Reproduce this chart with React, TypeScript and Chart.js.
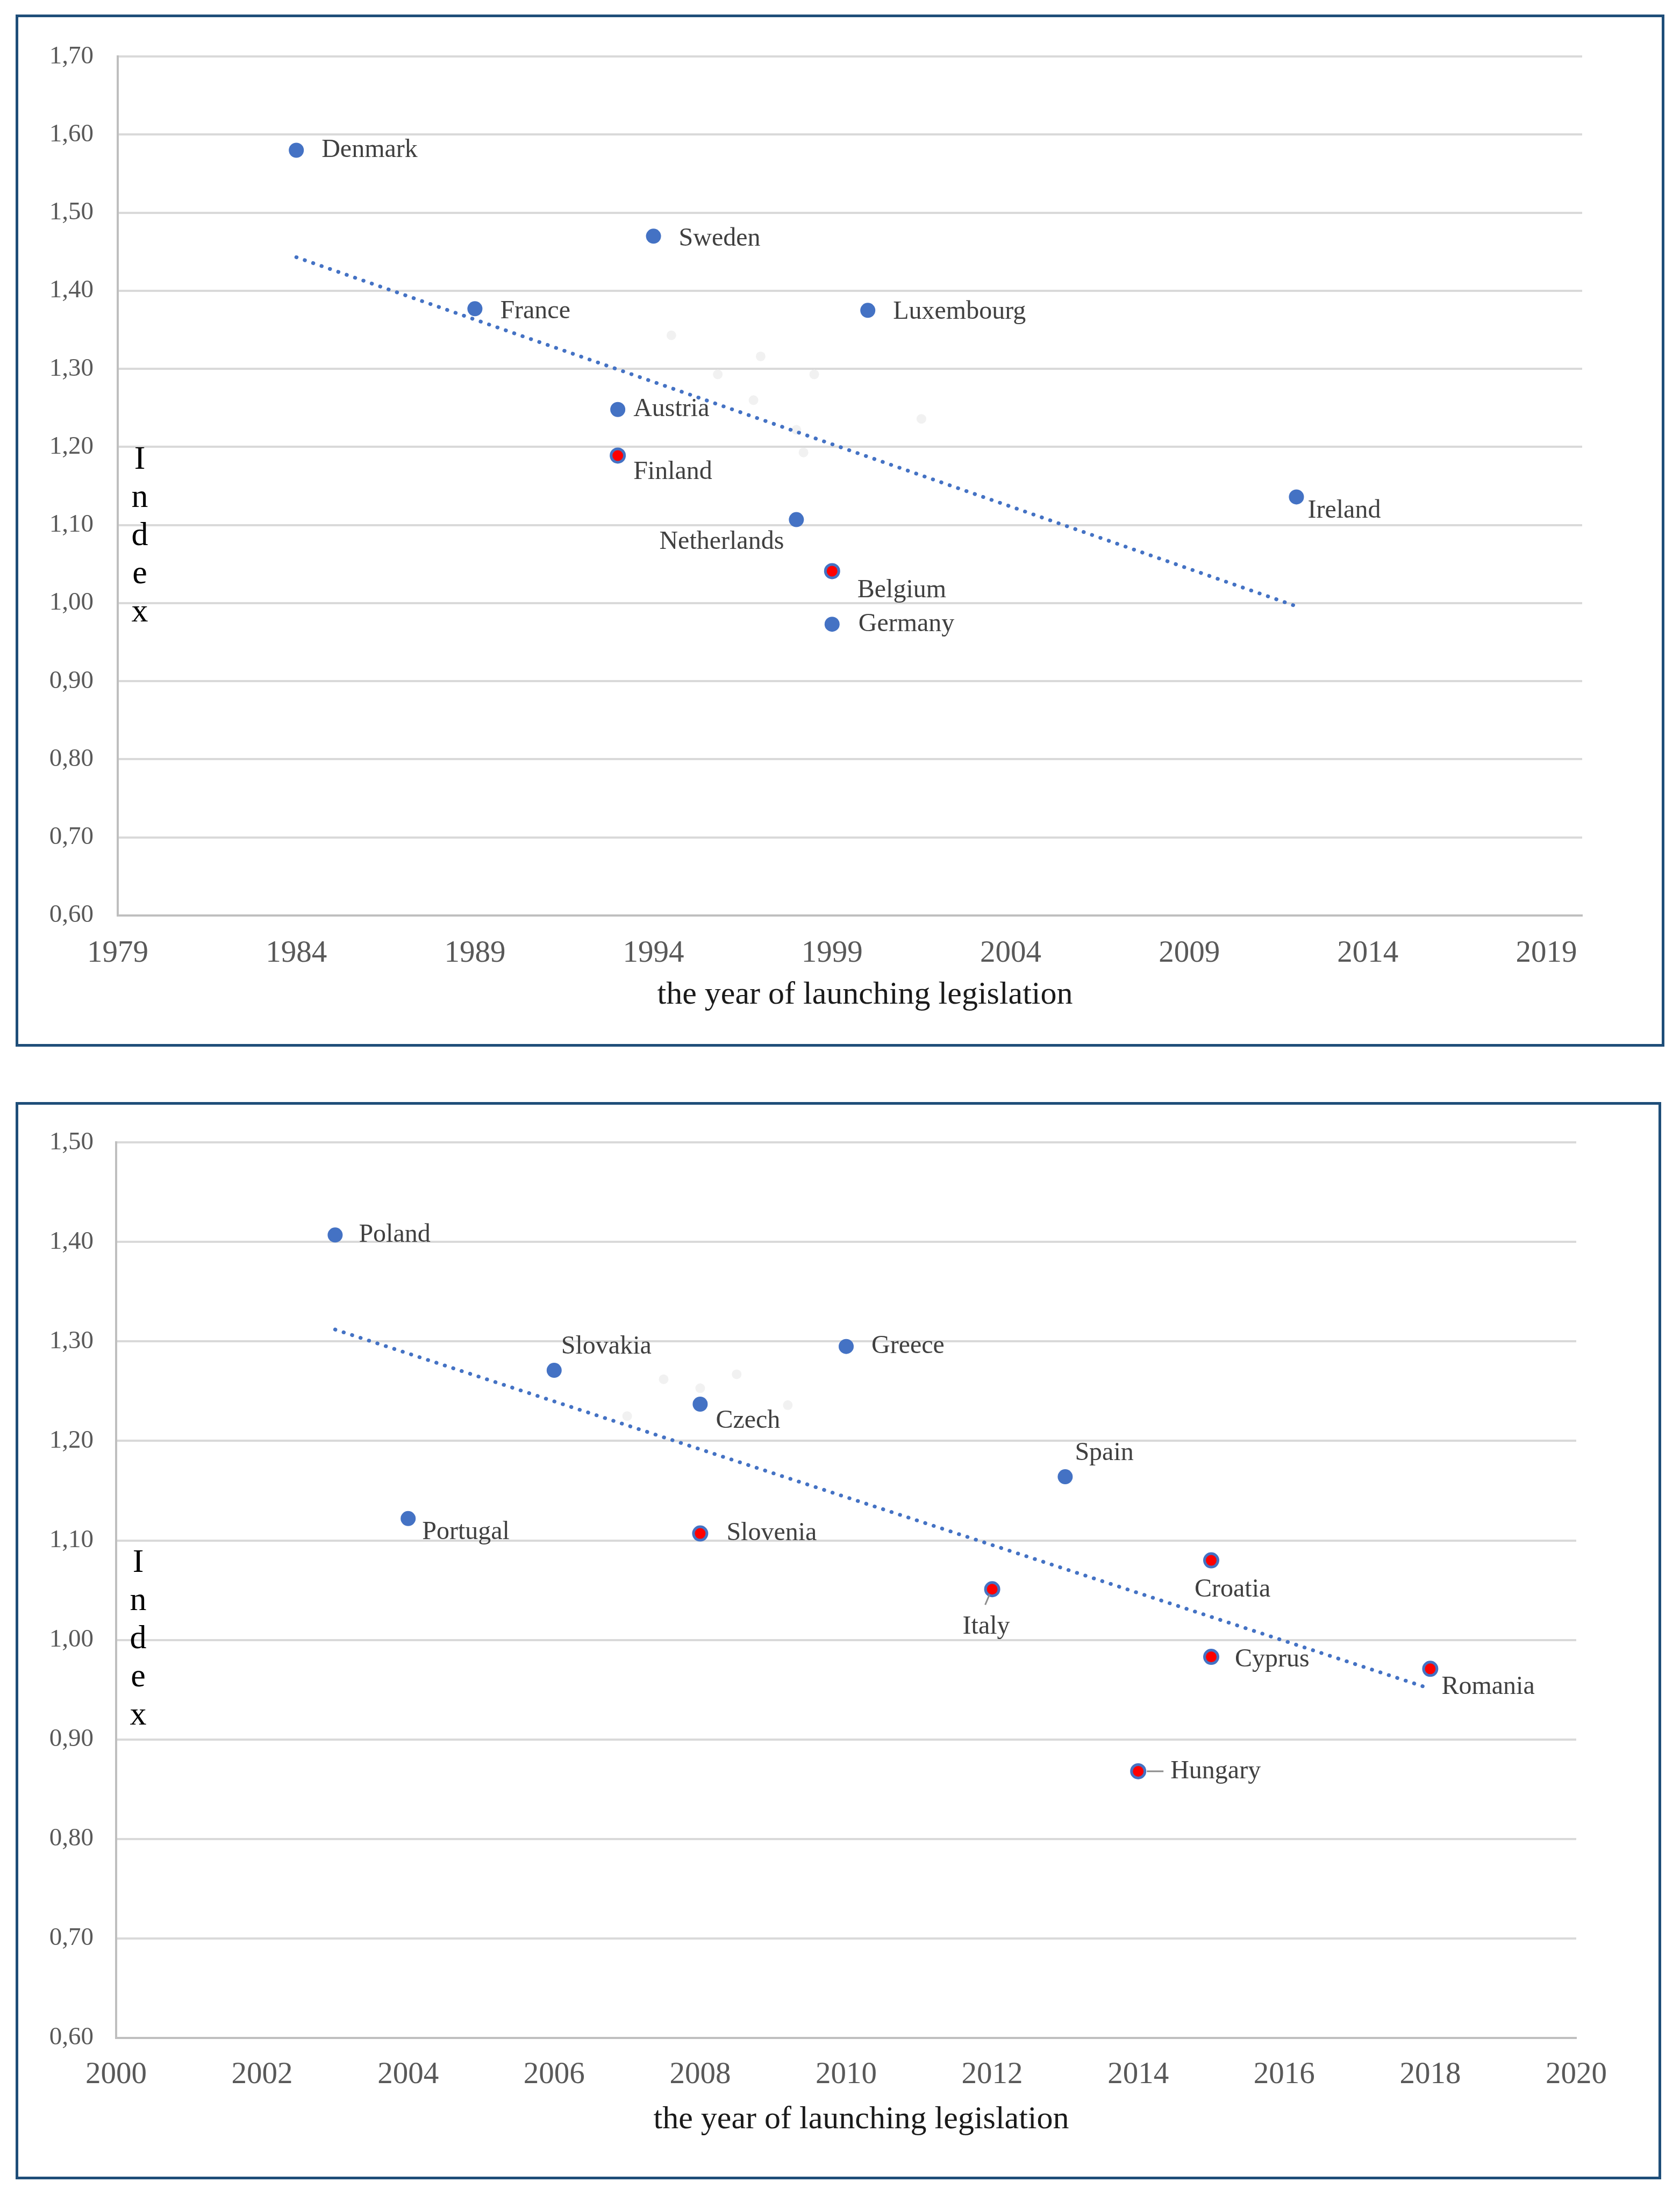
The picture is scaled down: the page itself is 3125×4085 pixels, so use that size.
import { useEffect, useRef } from 'react'
import { Chart, registerables } from 'chart.js'

Chart.register(...registerables)

const SERIF = '"Liberation Serif", "Times New Roman", serif'
const X_TITLE = 'the year of launching legislation'

// panel 1 (older member states)
const countriesA = ['Denmark', 'Sweden', 'France', 'Luxembourg', 'Austria', 'Finland', 'Netherlands', 'Belgium', 'Germany', 'Ireland']
const yearsA = [1984, 1994, 1989, 2000, 1993, 1993, 1998, 1999, 1999, 2012]
const indexA = [1.58, 1.47, 1.377, 1.375, 1.248, 1.189, 1.107, 1.041, 0.973, 1.136]
const trendYearsA = [1984, 2012]
const trendIndexA = [1.443, 0.996]
const ghostYearsA = [1994.5, 1995.8, 1997, 1998.5, 1996.8, 1998, 1998.2, 2001.5]
const ghostIndexA = [1.343, 1.293, 1.316, 1.293, 1.26, 1.222, 1.193, 1.236]
const xTicksA = [1979, 1984, 1989, 1994, 1999, 2004, 2009, 2014, 2019]
const yTicksA = [0.6, 0.7, 0.8, 0.9, 1.0, 1.1, 1.2, 1.3, 1.4, 1.5, 1.6, 1.7]

// panel 2 (newer member states)
const countriesB = ['Poland', 'Slovakia', 'Greece', 'Czech', 'Spain', 'Portugal', 'Slovenia', 'Croatia', 'Italy', 'Cyprus', 'Romania', 'Hungary']
const yearsB = [2003, 2006, 2010, 2008, 2013, 2004, 2008, 2015, 2012, 2015, 2018, 2014]
const indexB = [1.407, 1.271, 1.295, 1.237, 1.164, 1.122, 1.107, 1.08, 1.051, 0.983, 0.971, 0.868]
const trendYearsB = [2003, 2018]
const trendIndexB = [1.312, 0.951]
const ghostYearsB = [2007.5, 2008, 2008.5, 2007, 2009.2]
const ghostIndexB = [1.262, 1.253, 1.267, 1.225, 1.236]
const xTicksB = [2000, 2002, 2004, 2006, 2008, 2010, 2012, 2014, 2016, 2018, 2020]
const yTicksB = [0.6, 0.7, 0.8, 0.9, 1.0, 1.1, 1.2, 1.3, 1.4, 1.5]

const redMarked = ['Finland', 'Belgium', 'Slovenia', 'Croatia', 'Italy', 'Cyprus', 'Romania', 'Hungary']

// where each label sits relative to its marker: dx, dy, align
const labelPos: Record<string, [number, number, CanvasTextAlign]> = {
  Denmark: [47, 0, 'left'],
  Sweden: [47, 5, 'left'],
  France: [47, 5, 'left'],
  Luxembourg: [47, 3, 'left'],
  Austria: [29, 0, 'left'],
  Finland: [29, 31, 'left'],
  Netherlands: [-23, 42, 'right'],
  Belgium: [47, 36, 'left'],
  Germany: [49, 0, 'left'],
  Ireland: [21, 26, 'left'],
  Poland: [44, 0, 'left'],
  Slovakia: [13, -44, 'left'],
  Greece: [47, 0, 'left'],
  Czech: [29, 31, 'left'],
  Spain: [18, -44, 'left'],
  Portugal: [26, 26, 'left'],
  Slovenia: [49, 0, 'left'],
  Croatia: [-31, 55, 'left'],
  Italy: [-55, 70, 'left'],
  Cyprus: [44, 5, 'left'],
  Romania: [21, 34, 'left'],
  Hungary: [60, 0, 'left'],
}
const leaders: Record<string, [number, number, number, number]> = {
  Italy: [-5, 10, -13, 29],
  Hungary: [16, 0, 47, 0],
}

type Layout = {
  padTop: number; padRight: number; padBottom: number
  yAxisWidth: number; yTickPad: number; xAxisHeight: number; xTickPad: number
  titleDy: number
}

type PanelProps = {
  left: number; top: number; width: number; height: number
  countries: string[]; years: number[]; values: number[]
  trendYears: number[]; trendValues: number[]
  ghostYears: number[]; ghostValues: number[]
  xTicks: number[]; yTicks: number[]
  xMin: number; xMax: number; yMin: number; yMax: number
  layout: Layout
}

function Panel(p: PanelProps) {
  const canvasRef = useRef<HTMLCanvasElement | null>(null)
  const w = p.width - 10
  const h = p.height - 10

  useEffect(() => {
    if (!canvasRef.current) return
    const ctx = canvasRef.current.getContext('2d')
    if (!ctx) return
    const L = p.layout

    const labelPlugin = {
      id: 'countryLabels',
      afterDatasetsDraw(chart: any) {
        const meta = chart.getDatasetMeta(2)
        const c = chart.ctx
        c.save()
        c.font = `48px ${SERIF}`
        c.fillStyle = '#404040'
        c.textBaseline = 'middle'
        meta.data.forEach((el: any, i: number) => {
          const name = p.countries[i]
          const [dx, dy, align] = labelPos[name] || [40, 0, 'left']
          const ld = leaders[name]
          if (ld) {
            c.strokeStyle = '#8c8c8c'
            c.lineWidth = 3
            c.beginPath()
            c.moveTo(el.x + ld[0], el.y + ld[1])
            c.lineTo(el.x + ld[2], el.y + ld[3])
            c.stroke()
          }
          c.textAlign = align
          c.fillText(name, el.x + dx, el.y + dy)
        })
        c.restore()
      },
    }

    // vertical "Index" and the x title (title sits a bit right of centre in the original)
    const textPlugin = {
      id: 'axisTexts',
      afterDraw(chart: any) {
        const { left, right, top, bottom } = chart.chartArea
        const c = chart.ctx
        c.save()
        c.font = `62px ${SERIF}`
        c.fillStyle = '#000'
        c.textAlign = 'center'
        c.textBaseline = 'middle'
        const y0 = top + (bottom - top) * 0.47
        'Index'.split('').forEach((ch, i) => c.fillText(ch, left + 41, y0 + i * 71))
        c.font = `60px ${SERIF}`
        c.fillStyle = '#1a1a1a'
        c.fillText(X_TITLE, (left + right) / 2 + 28, bottom + L.titleDy)
        c.restore()
      },
    }

    const chart = new Chart(ctx, {
      type: 'scatter',
      data: {
        datasets: [
          {
            label: 'trend',
            data: p.trendYears.map((x, i) => ({ x, y: p.trendValues[i] })),
            showLine: true,
            borderColor: '#4472C4',
            borderWidth: 7,
            borderDash: [0.5, 16],
            borderCapStyle: 'round',
            pointRadius: 0,
          },
          {
            label: 'faint',
            data: p.ghostYears.map((x, i) => ({ x, y: p.ghostValues[i] })),
            pointRadius: 9,
            backgroundColor: '#f1f1f1',
            borderWidth: 0,
          },
          {
            label: 'countries',
            data: p.years.map((x, i) => ({ x, y: p.values[i] })),
            pointRadius: p.countries.map(c => (redMarked.includes(c) ? 12.5 : 14)),
            backgroundColor: p.countries.map(c => (redMarked.includes(c) ? '#FF0000' : '#4472C4')),
            borderColor: '#4472C4',
            borderWidth: p.countries.map(c => (redMarked.includes(c) ? 5 : 0)),
          },
        ],
      } as any,
      options: {
        animation: false,
        responsive: false,
        devicePixelRatio: 1,
        events: [],
        layout: { padding: { top: L.padTop, right: L.padRight, bottom: L.padBottom, left: 0 } },
        plugins: { legend: { display: false }, tooltip: { enabled: false } },
        scales: {
          x: {
            type: 'linear',
            min: p.xMin,
            max: p.xMax,
            afterBuildTicks: (s: any) => { s.ticks = p.xTicks.map(v => ({ value: v })) },
            afterFit: (s: any) => { s.height = L.xAxisHeight },
            grid: { display: false, drawTicks: false },
            border: { display: true, color: '#bfbfbf', width: 4 },
            ticks: {
              padding: L.xTickPad,
              color: '#595959',
              font: { family: SERIF, size: 57 },
              maxRotation: 0,
              autoSkip: false,
              callback: (v: any) => String(v),
            },
            title: { display: false },
          },
          y: {
            min: p.yMin,
            max: p.yMax,
            afterBuildTicks: (s: any) => { s.ticks = p.yTicks.map(v => ({ value: v })) },
            afterFit: (s: any) => { s.width = L.yAxisWidth },
            grid: { color: '#d9d9d9', lineWidth: 4, drawTicks: false },
            border: { display: true, color: '#bfbfbf', width: 4 },
            ticks: {
              padding: L.yTickPad,
              color: '#595959',
              font: { family: SERIF, size: 47 },
              callback: (v: any) => Number(v).toFixed(2).replace('.', ','),
            },
          },
        },
      } as any,
      plugins: [labelPlugin, textPlugin],
    })

    return () => chart.destroy()
  }, [])

  return (
    <div style={{
      position: 'absolute', left: p.left, top: p.top, width: p.width, height: p.height,
      border: '5px solid #1F4E79', boxSizing: 'border-box', background: '#fff',
    }}>
      <canvas ref={canvasRef} width={w} height={h} style={{ display: 'block', width: w, height: h }}></canvas>
    </div>
  )
}

export default function App() {
  return (
    <div style={{ position: 'relative', width: 3109, height: 4069, background: '#fff' }}>
      <Panel
        left={21} top={19} width={3067} height={1920}
        countries={countriesA} years={yearsA} values={indexA}
        trendYears={trendYearsA} trendValues={trendIndexA}
        ghostYears={ghostYearsA} ghostValues={ghostIndexA}
        xTicks={xTicksA} yTicks={yTicksA}
        xMin={1979} xMax={2020} yMin={0.6} yMax={1.7}
        layout={{ padTop: 67, padRight: 148, padBottom: 61, yAxisWidth: 185, yTickPad: 45, xAxisHeight: 178, xTickPad: 37, titleDy: 148 }}
      />
      <Panel
        left={21} top={2042} width={3061} height={2004}
        countries={countriesB} years={yearsB} values={indexB}
        trendYears={trendYearsB} trendValues={trendIndexB}
        ghostYears={ghostYearsB} ghostValues={ghostIndexB}
        xTicks={xTicksB} yTicks={yTicksB}
        xMin={2000} xMax={2020} yMin={0.6} yMax={1.5}
        layout={{ padTop: 67, padRight: 153, padBottom: 79, yAxisWidth: 182, yTickPad: 42, xAxisHeight: 179, xTickPad: 35, titleDy: 152 }}
      />
    </div>
  )
}
